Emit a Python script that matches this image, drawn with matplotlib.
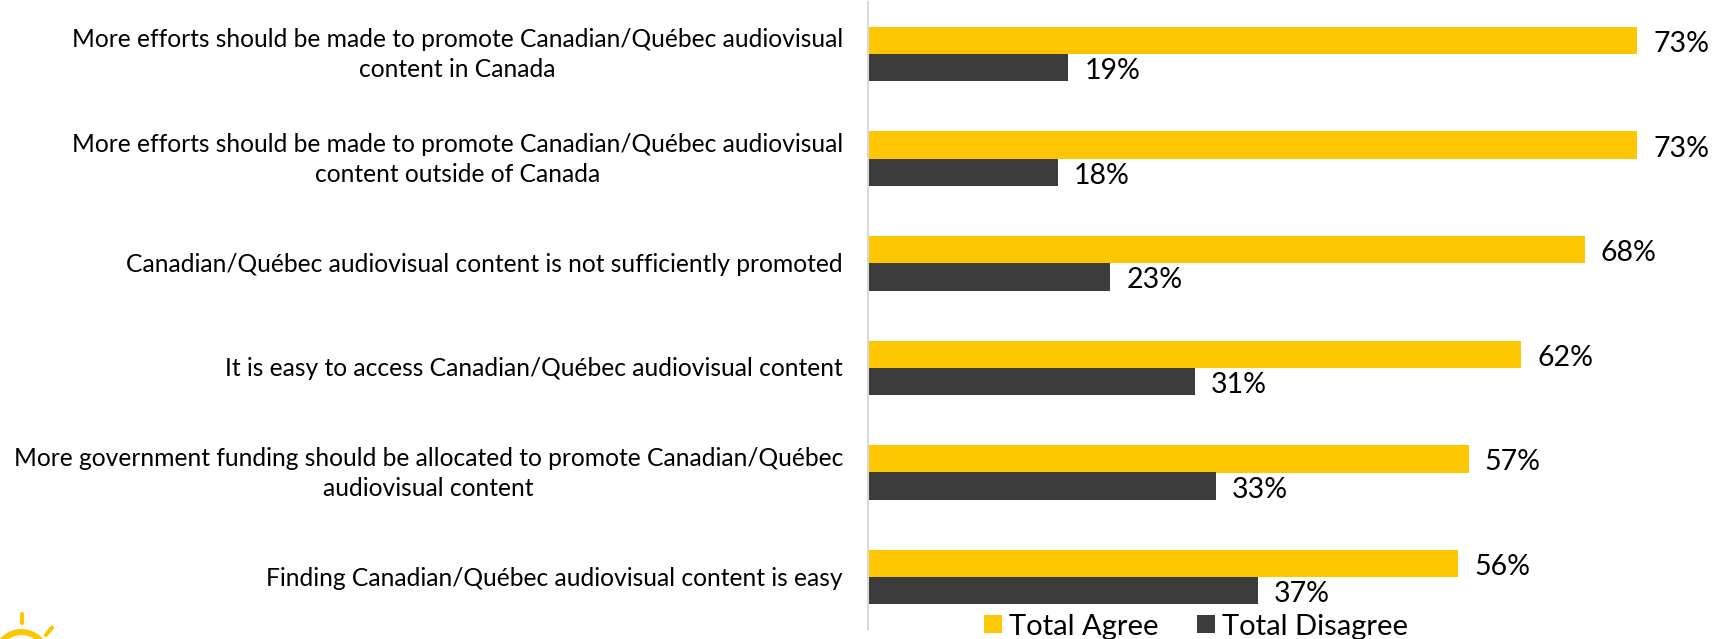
import matplotlib
matplotlib.use('Agg')
import matplotlib.pyplot as plt
import matplotlib.transforms as mtrans
import numpy as np
from matplotlib.patches import Wedge, Rectangle

plt.rcParams['font.family'] = ['Lato', 'DejaVu Sans']

labels = ['More efforts should be made to promote Canadian/Québec audiovisual\ncontent in Canada',
          'More efforts should be made to promote Canadian/Québec audiovisual\ncontent outside of Canada',
          'Canadian/Québec audiovisual content is not sufficiently promoted',
          'It is easy to access Canadian/Québec audiovisual content',
          'More government funding should be allocated to promote Canadian/Québec\naudiovisual content',
          'Finding Canadian/Québec audiovisual content is easy']
agree = [73, 73, 68, 62, 57, 56]
disagree = [19, 18, 23, 31, 33, 37]

W, H = 1723, 639
YELLOW = '#FCC600'
DARK = '#3B3B3B'

fig = plt.figure(figsize=(W/100, H/100), dpi=100)
ax = fig.add_axes([868/W, 1-629.4/H, 842/W, 627.6/H])

y = np.arange(len(labels))
bh = 0.261
ax.barh(y-bh/2, agree, bh, color=YELLOW)
ax.barh(y+bh/2, disagree, bh, color=DARK)
ax.set_xlim(0, 79.9)
ax.set_ylim(len(labels)-0.5, -0.5)

# data labels
for i in y:
    ax.annotate('%d%%' % agree[i], (agree[i], i-bh/2), xytext=(16, -3.5), textcoords='offset pixels',
                va='center', ha='left', fontsize=20.5)
    ax.annotate('%d%%' % disagree[i], (disagree[i], i+bh/2), xytext=(16, -3.5), textcoords='offset pixels',
                va='center', ha='left', fontsize=20.5)

ax.set_yticks(y)
ax.set_yticklabels(labels, fontsize=17.7, multialignment='center', linespacing=1.38)
ax.tick_params(axis='y', length=0, pad=18)
ax.set_xticks([])
for s in ['top', 'right', 'bottom']:
    ax.spines[s].set_visible(False)
ax.spines['left'].set_color('#D9D9D9')
ax.spines['left'].set_linewidth(1.5)

# two line labels sit a bit higher than centre
for lab in ax.get_yticklabels():
    up = 5 if '\n' in lab.get_text() else 1
    lab.set_transform(lab.get_transform() + mtrans.Affine2D().translate(0, up))

# legend
for px, col, name in [(984, YELLOW, 'Total Agree'), (1197, DARK, 'Total Disagree')]:
    fig.add_artist(Rectangle((px/W, 1-633/H), 18/W, 18/H, color=col, lw=0))
    fig.text((px+25)/W, 1-627/H, name, fontsize=21, va='center', ha='left')

# logo corner, pixel coords
logo = fig.add_axes([0, 0, 80/W, 39/H])
logo.set_xlim(0, 80)
logo.set_ylim(639, 600)
logo.axis('off')
logo.add_patch(Wedge((21.5, 657), 28, 180, 360, width=6, color=YELLOW, lw=0))
logo.plot([21.7, 21.7], [614, 623], color=YELLOW, lw=3, solid_capstyle='round')
logo.plot([52, 46], [627.5, 635], color=YELLOW, lw=3, solid_capstyle='round')

fig.savefig('out.png', dpi=100)
